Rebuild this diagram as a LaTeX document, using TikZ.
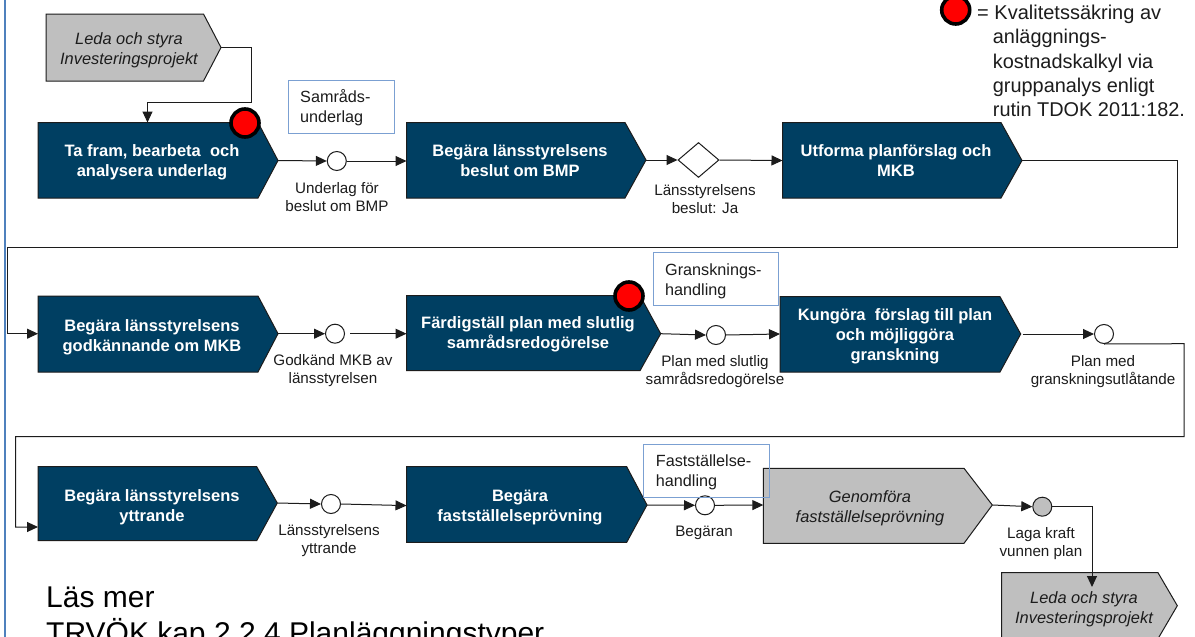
\documentclass[tikz,border=0pt]{standalone}
\usepackage{fontspec}
\setmainfont{Liberation Sans}
\usetikzlibrary{arrows.meta,shapes.geometric}
\definecolor{navy}{HTML}{003F62}
\definecolor{greybox}{HTML}{BFBFBF}
\definecolor{edgeblue}{HTML}{7BA0D2}
\definecolor{sidebar}{HTML}{4F81BD}
\definecolor{ink}{HTML}{1C1C1C}
\tikzset{
  navybox/.style={fill=navy,draw=ink,line width=1pt},
  greyshape/.style={fill=greybox,draw=ink,line width=1pt},
  boldtext/.style={inner sep=0pt,align=center,text=white,font=\fontsize{16.5}{20}\selectfont\bfseries},
  italtext/.style={inner sep=0pt,align=center,text=ink,font=\fontsize{16.4}{20}\selectfont\itshape},
  lab/.style={inner sep=0pt,align=center,text=ink,font=\fontsize{15.2}{18}\selectfont},
  doc/.style={inner sep=0pt,align=left,anchor=west,text=ink,font=\fontsize{16.2}{20}\selectfont},
  docbox/.style={draw=edgeblue,line width=1pt},
  ev/.style={circle,draw=ink,fill=white,line width=1pt,minimum size=19pt,inner sep=0pt},
  dec/.style={diamond,draw=ink,fill=white,line width=1pt,minimum width=41pt,minimum height=35pt,inner sep=0pt},
  redmark/.style={circle,draw=black,fill=red,line width=3.6pt,minimum size=28pt,inner sep=0pt},
  conn/.style={draw=ink,line width=1pt},
  arr/.style={conn,-{Triangle[length=11pt,width=10pt]}}
}
% name, style, left, shoulder, tip, top, bottom, tip y
\newcommand{\pent}[8]{%
  \path[#2] (#3,#6) -- (#4,#6) -- (#5,#8) -- (#4,#7) -- (#3,#7) -- cycle;
  \coordinate (#1-tip) at (#5,#8);
  \coordinate (#1-left) at (#3,#8);
  \coordinate (#1-nw) at (#3,#6);
}
\begin{document}
\begin{tikzpicture}[x=1pt,y=-1pt]
\clip (0,0) rectangle (1195,637);
\useasboundingbox (0,0) rectangle (1195,637);
\fill[white] (0,0) rectangle (1195,637);
\draw[sidebar,line width=2pt] (5,-2) -- (5,640);

% first row
\pent{lead}{greyshape}{46}{203.5}{221}{14}{81}{47.5}
\node[italtext] (leadt) at (129,50) {Leda och styra\\Investeringsprojekt};
\pent{b1}{navybox}{38}{258}{278}{122.5}{198}{160.5}
\node[boldtext] (b1t) at (152,162) {Ta fram, bearbeta\ \ och\\analysera underlag};
\node[redmark] (r1) at (245,123) {};
\node[ev] (c1) at (336.8,161) {};
\pent{b2}{navybox}{406.5}{625}{646}{122.5}{198}{160}
\node[boldtext] (b2t) at (520,161) {Begära länsstyrelsens\\beslut om BMP};
\node[dec] (d1) at (698.5,160) {};
\pent{b3}{navybox}{782.5}{1001}{1022}{122.5}{198}{160.5}
\node[boldtext] (b3t) at (896,161) {Utforma planförslag och\\MKB};
\draw[docbox] (288.5,80) rectangle (394.5,133);
\node[doc] (d1t) at (300,107.5) {Samråds-\\underlag};
\node[lab] (l1) at (337,197.5) {Underlag för\\beslut om BMP};
\node[lab] (l2) at (705,199) {Länsstyrelsens\\beslut: Ja};

% second row
\pent{b4}{navybox}{38}{258}{278}{296}{372}{333.7}
\node[boldtext] (b4t) at (152,337) {Begära länsstyrelsens\\godkännande om MKB};
\node[ev] (c2) at (335,333.7) {};
\pent{b5}{navybox}{406.5}{640}{660.7}{295.7}{370.7}{333.7}
\node[boldtext] (b5t) at (528,334) {Färdigställ plan med slutlig\\samrådsredogörelse};
\node[redmark] (r2) at (629,296) {};
\node[ev] (c3) at (716,335) {};
\pent{b6}{navybox}{780}{1000}{1020.7}{296.7}{372}{334}
\node[boldtext] (b6t) at (895,336.5) {Kungöra\ \ förslag till plan\\och möjliggöra\\granskning};
\node[ev] (c4) at (1104,334) {};
\draw[docbox] (653.3,252.7) rectangle (778.3,305.7);
\node[doc] (d2t) at (665,281) {Gransknings-\\handling};
\node[lab] (l3) at (333,371) {Godkänd MKB av\\länsstyrelsen};
\node[lab] (l4) at (715,371.5) {Plan med slutlig\\samrådsredogörelse};
\node[lab] (l5) at (1103,371.5) {Plan med\\granskningsutlåtande};

% third row
\pent{b7}{navybox}{38}{256.7}{277.3}{466.7}{540.7}{503}
\node[boldtext] (b7t) at (152,507) {Begära länsstyrelsens\\yttrande};
\node[ev] (c5) at (331,504) {};
\pent{b8}{navybox}{406.5}{626.7}{647}{466.7}{542.3}{505}
\node[boldtext] (b8t) at (520,507.5) {Begära\\fastställelseprövning};
\node[ev] (c6) at (705,505.3) {};
\pent{b9}{greyshape}{763.3}{964}{992.3}{468.3}{543.3}{505}
\node[italtext] (b9t) at (870,508) {Genomföra\\fastställelseprövning};
\node[ev,fill=greybox] (c7) at (1042.3,506.7) {};
\pent{lead2}{greyshape}{1001.7}{1158}{1177.3}{572.7}{638.7}{605.7}
\node[italtext] (lead2t) at (1084,609) {Leda och styra\\Investeringsprojekt};
\draw[docbox] (643.3,444.3) rectangle (769,497.3);
\node[doc] (d3t) at (655.7,472.7) {Fastställelse-\\handling};
\node[lab] (l6) at (329,541) {Länsstyrelsens\\yttrande};
\node[lab] (l7) at (704,532.7) {Begäran};
\node[lab] (l8) at (1041,543.5) {Laga kraft\\vunnen plan};

% legend and reading note
\node[redmark,minimum size=28pt] (r3) at (955.7,10) {};
\node[inner sep=0pt,anchor=west,text=ink,font=\fontsize{20}{24}\selectfont] (eq) at (977,14) {= Kvalitetssäkring av};
\node[inner sep=0pt,anchor=north west,align=left,text=ink,font=\fontsize{19.9}{24.4}\selectfont] (leg) at (992.7,29) {anläggnings-\\kostnadskalkyl via\\gruppanalys enligt\\rutin TDOK 2011:182.};
\node[inner sep=0pt,anchor=base west,align=left,font=\fontsize{30}{36}\selectfont,text=black] (more) at (46,643) {Läs mer\\TRVÖK kap 2.2.4 Planläggningstyper};

% connectors
\coordinate (j1) at (251,47.5);
\coordinate (j2) at (251,102.5);
\coordinate (j3) at (147.5,102.5);
\coordinate (j4) at (147.5,122.5);
\draw[arr] (lead-tip) -- (j1) -- (j2) -- (j3) -- (j4);
\draw[arr] (b1-tip) -- (c1.west);
\draw[arr] (c1.east) -- (b2-left |- c1.east);
\draw[arr] (b2-tip) -- (d1.west);
\draw[arr] (d1.east) -- (b3-left);
\coordinate (k1) at (1177,160.5);
\coordinate (k2) at (1177,247.5);
\coordinate (k3) at (7.5,247.5);
\coordinate (k4) at (7.5,333.7);
\draw[arr] (b3-tip) -- (k1) -- (k2) -- (k3) -- (k4) -- (b4-left);
\draw[arr] (b4-tip) -- (c2.west);
\draw[arr,shorten <=5pt] (c2.east) -- (b5-left);
\draw[arr] (b5-tip) -- (c3.west);
\draw[arr] (c3.east) -- (b6-left);
\draw[arr,shorten <=2pt] (b6-tip) -- (c4.west);
\coordinate (m1) at (1184,343.7);
\coordinate (m2) at (1184,436.7);
\coordinate (m3) at (15.7,436.7);
\coordinate (m4) at (15.7,527);
\coordinate (m5) at (38,527);
\draw[arr] (c4.south) -- (m1) -- (m2) -- (m3) -- (m4) -- (m5);
\draw[arr] (b7-tip) -- (c5.west);
\coordinate (n1) at (406.5,505.6);
\draw[arr] (c5.east) -- (n1);
\draw[arr] (b8-tip) -- (c6.west);
\draw[arr] (c6.east) -- (b9-left);
\draw[arr] (b9-tip) -- (c7.west);
\coordinate (p1) at (1092,506.7);
\coordinate (p2) at (1092,587);
\draw[arr] (c7.east) -- (p1) -- (p2);
\end{tikzpicture}
\end{document}
